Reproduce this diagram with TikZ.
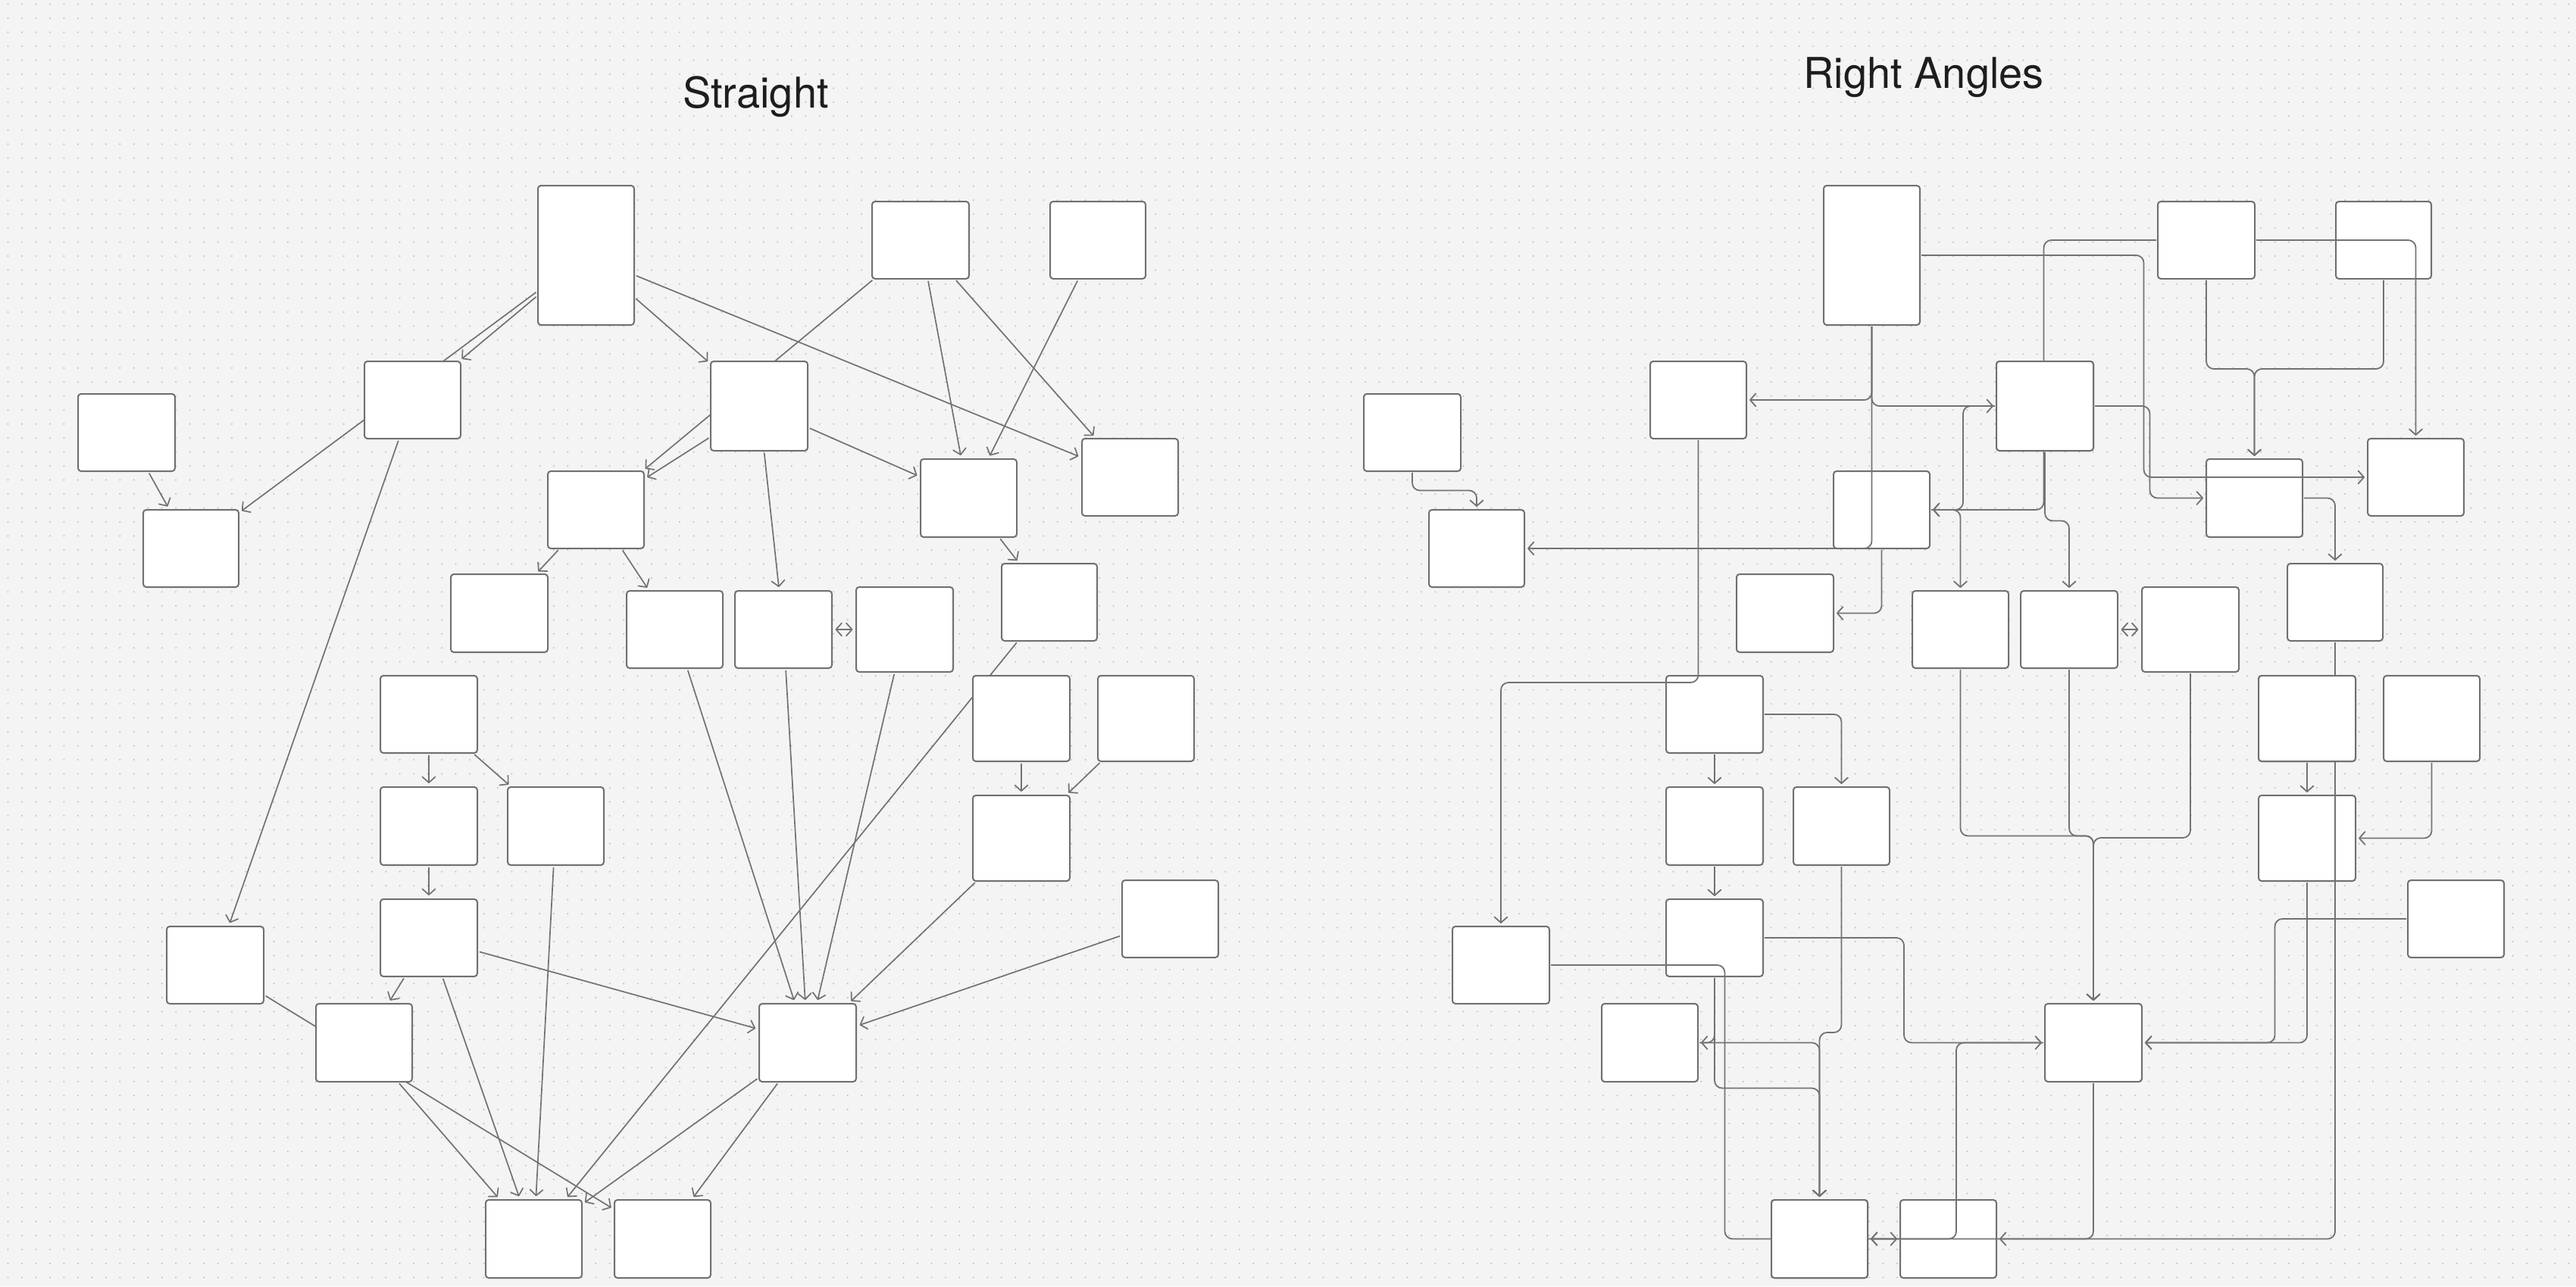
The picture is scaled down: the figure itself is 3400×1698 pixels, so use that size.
\documentclass[tikz,border=0pt]{standalone}
\usepackage{fontspec}
\newfontfamily\titlefont{TeX Gyre Heros}
\usetikzlibrary{arrows.meta}
\definecolor{bgcol}{HTML}{F4F4F4}
\definecolor{dotcol}{HTML}{BDBDBD}
\definecolor{linecol}{HTML}{727272}
\definecolor{boxcol}{HTML}{707070}
\definecolor{txtcol}{HTML}{1D1D1D}
\pgfdeclarelayer{bg}\pgfdeclarelayer{lower}\pgfdeclarelayer{upper}\pgfdeclarelayer{top}
\pgfsetlayers{bg,lower,main,upper,top}
\newcommand{\mkbox}[5]{%
  \pgfmathsetmacro\bxw{((#4)-(#2))*0.5}%
  \pgfmathsetmacro\bxh{((#5)-(#3))*0.5}%
  \node[bx, minimum width=\bxw pt, minimum height=\bxh pt] (#1) at ({((#2)+(#4))/2},{((#3)+(#5))/2}) {};}
\newcommand{\pairbox}[5]{\mkbox{L#1}{#2}{#3}{#4}{#5}\mkbox{R#1}{#2+1697}{#3}{#4+1697}{#5}}
\begin{document}
\begin{tikzpicture}[x=0.5pt, y=-0.5pt,
  >={Straight Barb[length=3.8pt,width=8.5pt,round]},
  bx/.style={draw=boxcol, fill=white, line width=1pt, rounded corners=2pt, inner sep=0pt, outer sep=0pt},
  bxcopy/.style={draw=boxcol, fill=white, line width=1pt, rounded corners=2pt},
  sedge/.style={draw=linecol, line width=0.85pt, ->, shorten >=2.5pt, shorten <=1.5pt},
  redge/.style={draw=linecol, line width=0.9pt, ->, rounded corners=5pt, shorten >=2pt, shorten <=1pt},
  dbl/.style={<->, shorten <=2.3pt, shorten >=2.3pt},
  ttl/.style={font=\titlefont\fontsize{28}{30}\selectfont, text=txtcol, inner sep=0pt, anchor=base}]
\useasboundingbox (0,0) rectangle (3400,1698);
\begin{pgfonlayer}{bg}
\fill[bgcol] (0,0) rectangle (3400,1698);
\foreach \j in {0,...,91}{
  \draw[dotcol, line width=1.1pt, line cap=round, dash pattern=on 0pt off 9.235pt] (10.5,{5.6+18.47*\j}) -- (3400,{5.6+18.47*\j});
}
\end{pgfonlayer}

\node[ttl] (tS) at (997.5,142.7) {Straight};
\node[ttl] (tR) at (2539,116) {Right Angles};

\pairbox{1}{710}{245}{837}{429}
\pairbox{2}{1151}{266}{1279}{368}
\pairbox{3}{1386}{266}{1512}{368}
\pairbox{4}{481}{477}{608}{579}
\pairbox{5}{938}{477}{1066}{595}
\pairbox{6}{103}{520}{231}{622}
\pairbox{7}{189}{673}{315}{775}
\pairbox{8}{723}{622}{850}{724}
\pairbox{9}{1215}{606}{1342}{709}
\pairbox{10}{1428}{579}{1555}{681}
\pairbox{11}{595}{758}{723}{861}
\pairbox{12}{827}{780}{954}{882}
\pairbox{13}{970}{780}{1098}{882}
\pairbox{14}{1130}{775}{1258}{887}
\pairbox{15}{1322}{744}{1448}{846}
\pairbox{16}{502}{892}{630}{994}
\pairbox{17}{1284}{892}{1412}{1005}
\pairbox{18}{1449}{892}{1576}{1005}
\pairbox{19}{502}{1039}{630}{1142}
\pairbox{20}{670}{1039}{797}{1142}
\pairbox{21}{1284}{1050}{1412}{1163}
\pairbox{22}{502}{1187}{630}{1289}
\pairbox{23}{1481}{1162}{1608}{1264}
\pairbox{24}{220}{1223}{348}{1325}
\pairbox{25}{417}{1325}{544}{1428}
\pairbox{26}{1002}{1325}{1130}{1428}
\pairbox{27}{641}{1584}{768}{1687}
\pairbox{28}{811}{1584}{938}{1687}

% ---------- Straight (left), under the boxes
\begin{pgfonlayer}{lower}
\draw[sedge] (L1) -- (L4);
\draw[sedge] (L1) -- (L7);
\draw[sedge] (L1) -- (L5);
\draw[sedge] (L1) -- (L10);
\draw[sedge] (L2) -- (L8);
\draw[sedge] (L2) -- (L9);
\draw[sedge] (L2) -- (L10);
\draw[sedge] (L3) -- (L9);
\draw[sedge] (L4) -- (L24);
\draw[sedge] (L5) -- (L8);
\draw[sedge] (L5) -- (L9);
\draw[sedge] (L5) -- (L13);
\draw[sedge] (L6) -- (L7);
\draw[sedge] (L8) -- (L11);
\draw[sedge] (L8) -- (L12);
\draw[sedge, dbl] (L13) -- (L14);
\draw[sedge] (L9) -- (L15);
\draw[sedge] (L15) -- (L27);
\draw[sedge] (L12) -- (L26);
\draw[sedge] (L13) -- (L26);
\draw[sedge] (L14) -- (L26);
\draw[sedge] (L17) -- (L21);
\draw[sedge] (L18) -- (L21);
\draw[sedge] (L16) -- (L19);
\draw[sedge] (L16) -- (L20);
\draw[sedge] (L19) -- (L22);
\draw[sedge] (L20) -- (L27);
\draw[sedge] (L21) -- (L26);
\draw[sedge] (L23) -- (L26);
\draw[sedge] (L22) -- (L26);
\draw[sedge] (L22) -- (L25);
\draw[sedge] (L22) -- (L27);
\draw[sedge] (L24) -- (L28);
\draw[sedge] (L25) -- (L27);
\draw[sedge] (L26) -- (L27);
\draw[sedge] (L26) -- (L28);
\end{pgfonlayer}

% ---------- Right Angles (right), over most boxes
\begin{pgfonlayer}{upper}
\draw[redge] (R1.south) |- (R4.east);
\draw[redge] (R1.south) |- (R5.west);
\draw[redge] (R1.south) |- (R7.east);
\draw[redge] (R1.east) -- (2829.5,337) |- (R10.west);
\draw[redge] (R2.west) -| (2697.5,673) -- (R8.east);
\draw[redge] (R5.west) -| (2591,673) -- (R8.east);
\draw[redge] (R2.south) |- (2975.5,487) -- (R9.north);
\draw[redge] (R3.south) |- (2975.5,487) -- (R9.north);
\draw[redge] (R2.east) -| (R10.north);
\draw[redge] (R4.south) |- (1981,901) -- (R24.north);
\draw[redge] (R5.east) -| (2837.5,657.5) -- (R9.west);
\draw[redge] (R5.south) |- (2731,687.5) -- (R13.north);
\draw[redge] (R6.south) |- (1949,647.5) -- (R7.north);
\draw[redge] (R8.south) |- (R11.east);
\draw[redge] (R8.east) -| (R12.north);
\draw[redge, dbl] (R13.east) -- (R14.west);
\draw[redge] (R9.east) -| (R15.north);
\draw[redge] (R15.south) |- (R27.east);
\draw[redge] (R12.south) |- (2763,1103.5) -- (R26.north);
\draw[redge] (R13.south) |- (2763,1103.5) -- (R26.north);
\draw[redge] (R14.south) |- (2763,1106) -- (R26.north);
\draw[redge] (R16.south) -- (R19.north);
\draw[redge] (R16.east) -| (R20.north);
\draw[redge] (R19.south) -- (R22.north);
\draw[redge] (R17.south) -- (R21.north);
\draw[redge] (R18.south) |- (R21.east);
\draw[redge] (R20.south) |- (2401.5,1363) -- (R27.north);
\draw[redge] (R22.south) |- (2401.5,1436.5) -- (R27.north);
\draw[redge] (R22.south) |- (R25.east);
\draw[redge] (R25.east) -| (R27.north);
\draw[redge] (R22.east) -| (2513,1376.5) -- (R26.west);
\draw[redge] (R21.south) |- (R26.east);
\draw[redge] (R23.west) -| (3002.5,1376.5) -- (R26.east);
\draw[redge] (R24.east) -| (2276.5,1635.5) -- (R28.west);
\draw[redge] (R26.west) -| (2582,1635.5) -- (R27.east);
\draw[redge] (R26.south) |- (R28.east);
\end{pgfonlayer}

% boxes that lie over the connectors
\begin{pgfonlayer}{top}
\foreach \n in {R5,R17,R27}{
  \draw[bxcopy] (\n.south west) rectangle (\n.north east);
}
\end{pgfonlayer}
\end{tikzpicture}
\end{document}
